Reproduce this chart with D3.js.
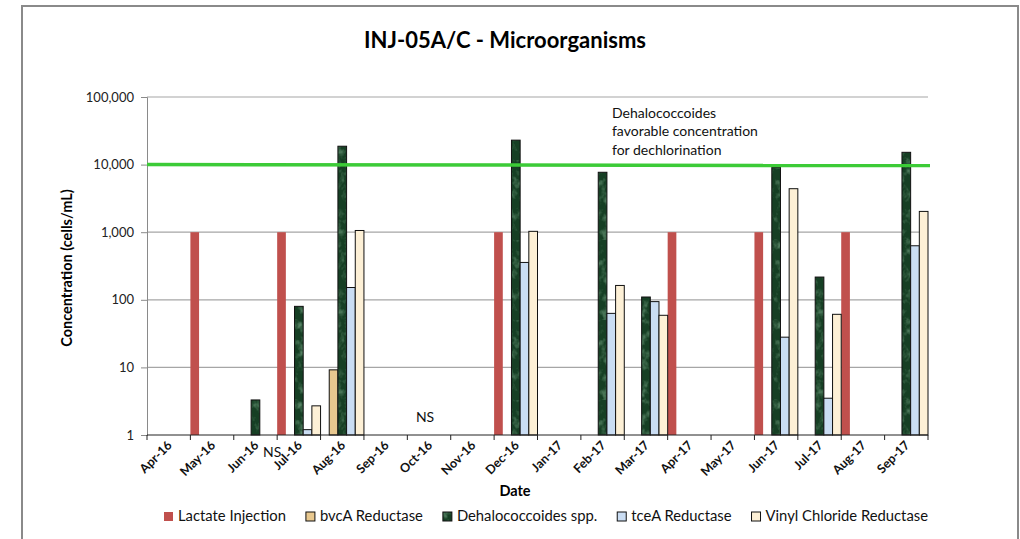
<!DOCTYPE html>
<html>
<head>
<meta charset="utf-8">
<script src="https://cdn.jsdelivr.net/npm/d3@7"></script>
<style>
  body { margin: 0; background: #fff; }
  svg text { font-family: Lato, "Open Sans", sans-serif; }
</style>
</head>
<body>
<div id="chart"></div>
<script>
const categories = ["Apr-16", "May-16", "Jun-16", "Jul-16", "Aug-16", "Sep-16", "Oct-16", "Nov-16", "Dec-16",
  "Jan-17", "Feb-17", "Mar-17", "Apr-17", "May-17", "Jun-17", "Jul-17", "Aug-17", "Sep-17"];

const seriesNames = ["Lactate Injection", "bvcA Reductase", "Dehalococcoides spp.", "tceA Reductase", "Vinyl Chloride Reductase"];

// one value per month, null = no bar
const lactate = [null, 1000, null, 1000, null, null, null, null, 1000, null, null, null, 1000, null, 1000, null, 1000, null];
const bvcA    = [null, null, null, null, 9.2, null, null, null, null, null, null, null, null, null, null, null, null, null];
const dhc     = [null, null, 3.3, 80, 18700, null, null, null, 23000, null, 7700, 110, null, null, 9100, 217, null, 15200];
const tceA    = [null, null, null, 1.2, 152, null, null, null, 357, null, 63, 94, null, null, 28, 3.5, null, 630];
const vinylCl = [null, null, null, 2.7, 1060, null, null, null, 1030, null, 163, 59, null, null, 4400, 61, null, 2030];

const yTicks = [1, 10, 100, 1000, 10000, 100000];
const threshold = 10000;
const thresholdNote = ["Dehalococcoides", "favorable concentration", "for dechlorination"];
const notSampled = [{month: "Jul-16", text: "NS", below: true}, {month: "Oct-16", text: "NS", below: false}];

const W = 1020, H = 539;
const plot = {left: 147, right: 928, top: 97, bottom: 435};

const svg = d3.select("#chart").append("svg")
    .attr("width", W)
    .attr("height", H);

// textures
const defs = svg.append("defs");
const noise = defs.append("filter").attr("id", "noise")
    .attr("x", 0).attr("y", 0).attr("width", "100%").attr("height", "100%");
noise.append("feTurbulence")
    .attr("type", "fractalNoise")
    .attr("baseFrequency", "0.12 0.1")
    .attr("numOctaves", 3)
    .attr("seed", 7);
noise.append("feColorMatrix")
    .attr("type", "matrix")
    .attr("values", "0 0 0 0 0.24  0 0 0 0 0.47  0 0 0 0 0.30  1.6 0 0 0 -0.78");

const marble = defs.append("pattern").attr("id", "marble")
    .attr("patternUnits", "userSpaceOnUse")
    .attr("width", 80).attr("height", 80);
marble.append("rect").attr("width", 80).attr("height", 80).attr("fill", "#163f24");
marble.append("rect").attr("width", 80).attr("height", 80).attr("filter", "url(#noise)");

const colors = ["#C0504D", "#E8C88F", "url(#marble)", "#CADDF3", "#FDF0D6"];
const strokes = ["none", "#111", "#111", "#111", "#111"];

// outer frame
svg.append("rect")
    .attr("x", 22).attr("y", 6)
    .attr("width", 996).attr("height", H + 10)
    .attr("fill", "none")
    .attr("stroke", "#8a8a8a")
    .attr("stroke-width", 2);

svg.append("text")
    .attr("x", 505).attr("y", 48)
    .attr("text-anchor", "middle")
    .attr("font-size", 22)
    .attr("font-weight", "bold")
    .attr("fill", "#000")
    .text("INJ-05A/C - Microorganisms");

const x = d3.scaleBand()
    .domain(categories)
    .range([plot.left, plot.right])
    .padding(0);

const xInner = d3.scaleBand()
    .domain(d3.range(seriesNames.length))
    .range([0, x.bandwidth()])
    .padding(0);

const y = d3.scaleLog()
    .domain([1, 100000])
    .range([plot.bottom, plot.top]);

// gridlines
svg.append("g")
    .selectAll("line")
    .data(yTicks.slice(1))
    .join("line")
    .attr("x1", plot.left).attr("x2", plot.right)
    .attr("y1", d => y(d)).attr("y2", d => y(d))
    .attr("stroke", "#a6a6a6")
    .attr("stroke-width", 1.2);

// y axis
const yAxis = svg.append("g")
    .attr("transform", `translate(${plot.left},0)`)
    .call(d3.axisLeft(y).tickValues(yTicks).tickFormat(d3.format(",")).tickSize(6).tickPadding(7));
yAxis.select(".domain").attr("stroke", "#8a8a8a");
yAxis.selectAll(".tick line").attr("stroke", "#8a8a8a");
yAxis.selectAll("text")
    .attr("font-size", 13)
    .attr("fill", "#222");

svg.append("text")
    .attr("transform", `translate(72,${(plot.top + plot.bottom) / 2 + 2}) rotate(-90)`)
    .attr("text-anchor", "middle")
    .attr("font-size", 14.5)
    .attr("font-weight", "bold")
    .text("Concentration (cells/mL)");

// bars
const allSeries = [lactate, bvcA, dhc, tceA, vinylCl];
const barData = [];
allSeries.forEach((vals, si) => {
    vals.forEach((v, ci) => {
        if (v != null) barData.push({series: si, month: categories[ci], value: v});
    });
});

svg.append("g")
    .selectAll("rect")
    .data(barData)
    .join("rect")
    .attr("x", d => x(d.month) + xInner(d.series))
    .attr("y", d => y(d.value))
    .attr("width", xInner.bandwidth())
    .attr("height", d => y(1) - y(d.value))
    .attr("fill", d => colors[d.series])
    .attr("stroke", d => strokes[d.series])
    .attr("stroke-width", 1);

// x axis
const xAxis = svg.append("g")
    .attr("transform", `translate(0,${plot.bottom})`);
xAxis.append("line")
    .attr("x1", plot.left).attr("x2", plot.right)
    .attr("stroke", "#222");
xAxis.selectAll(".tk")
    .data(categories.concat(["end"]))
    .join("line")
    .attr("class", "tk")
    .attr("x1", (d, i) => plot.left + i * x.step())
    .attr("x2", (d, i) => plot.left + i * x.step())
    .attr("y1", 0).attr("y2", 5)
    .attr("stroke", "#222");
xAxis.selectAll("text")
    .data(categories)
    .join("text")
    .attr("transform", d => `translate(${x(d) + x.bandwidth() / 2 + 4},11) rotate(-45)`)
    .attr("text-anchor", "end")
    .attr("font-size", 12.5)
    .attr("font-weight", "bold")
    .attr("fill", "#111")
    .text(d => d);

svg.append("text")
    .attr("x", 515).attr("y", 496)
    .attr("text-anchor", "middle")
    .attr("font-size", 14.5)
    .attr("font-weight", "bold")
    .text("Date");

// threshold line + note
svg.append("line")
    .attr("x1", plot.left).attr("x2", plot.right + 2)
    .attr("y1", y(threshold)).attr("y2", y(threshold) + 1)
    .attr("stroke", "#3CCB37")
    .attr("stroke-width", 3.5);

svg.append("text")
    .attr("x", 612).attr("y", 118)
    .attr("font-size", 14)
    .attr("fill", "#111")
    .selectAll("tspan")
    .data(thresholdNote)
    .join("tspan")
    .attr("x", 612)
    .attr("dy", (d, i) => i === 0 ? 0 : 18.4)
    .text(d => d);

svg.append("g")
    .selectAll("text")
    .data(notSampled)
    .join("text")
    .attr("x", d => d.below ? x(d.month) - 5 : x(d.month) + x.bandwidth() / 2 - 4)
    .attr("y", d => d.below ? 457 : 422)
    .attr("text-anchor", "middle")
    .attr("font-size", 14)
    .attr("fill", "#111")
    .text(d => d.text);

// legend
const legend = svg.append("g");
const items = legend.selectAll("g")
    .data(seriesNames)
    .join("g");
items.append("rect")
    .attr("width", 9).attr("height", 9)
    .attr("y", -9)
    .attr("fill", (d, i) => colors[i])
    .attr("stroke", (d, i) => strokes[i]);
items.append("text")
    .attr("x", 14)
    .attr("y", 0)
    .attr("font-size", 14.8)
    .attr("fill", "#111")
    .text(d => d);

let pos = 0;
const widths = [];
items.each(function() {
    const w = 14 + d3.select(this).select("text").node().getComputedTextLength();
    widths.push(w);
});
// spread the items over the same span as the original legend
const gap = Math.max(12, (764 - d3.sum(widths)) / (widths.length - 1));
const start = 164;
items.attr("transform", (d, i) => {
    const tx = start + pos;
    pos += widths[i] + gap;
    return `translate(${tx},521)`;
});
</script>
</body>
</html>
